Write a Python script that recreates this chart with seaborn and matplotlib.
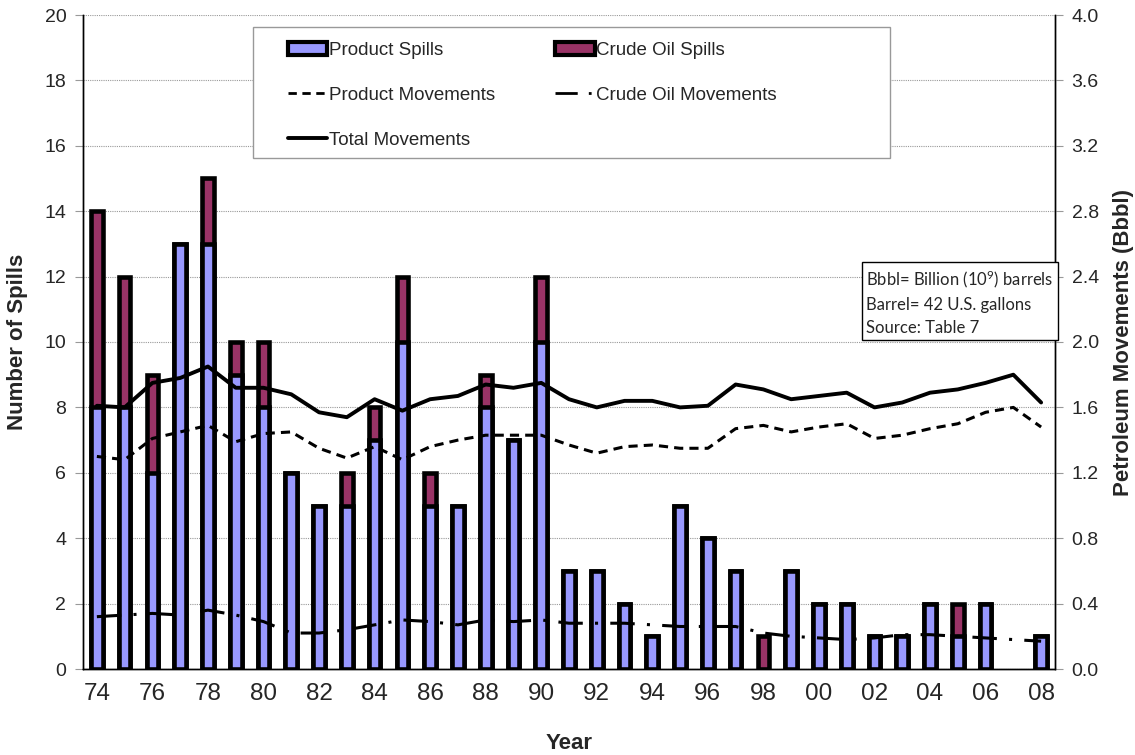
import numpy as np
import pandas as pd
import matplotlib
matplotlib.use("Agg")
import matplotlib.pyplot as plt
import seaborn as sns
from matplotlib.patches import Patch, Rectangle
from matplotlib.lines import Line2D

# data, 1974-2008
years = list(range(1974, 2009))
product_spills = [8, 8, 6, 13, 13, 9, 8, 6, 5, 5, 7, 10, 5, 5, 8, 7, 10, 3, 3, 2, 1, 5, 4, 3, 0, 3, 2, 2, 1, 1, 2, 1, 2, 0, 1]
crude_spills = [6, 4, 3, 0, 2, 1, 2, 0, 0, 1, 1, 2, 1, 0, 1, 0, 2, 0, 0, 0, 0, 0, 0, 0, 1, 0, 0, 0, 0, 0, 0, 1, 0, 0, 0]
total_mv = [1.61, 1.60, 1.75, 1.78, 1.85, 1.72, 1.72, 1.68, 1.57, 1.54, 1.65, 1.58, 1.65, 1.67, 1.74, 1.72, 1.75, 1.65,
            1.60, 1.64, 1.64, 1.60, 1.61, 1.74, 1.71, 1.65, 1.67, 1.69, 1.60, 1.63, 1.69, 1.71, 1.75, 1.80, 1.63]
product_mv = [1.30, 1.28, 1.41, 1.45, 1.49, 1.39, 1.44, 1.45, 1.35, 1.29, 1.36, 1.28, 1.36, 1.40, 1.43, 1.43, 1.43, 1.37,
              1.32, 1.36, 1.37, 1.35, 1.35, 1.47, 1.49, 1.45, 1.48, 1.50, 1.41, 1.43, 1.47, 1.50, 1.57, 1.60, 1.48]
crude_mv = [0.32, 0.33, 0.34, 0.33, 0.36, 0.33, 0.29, 0.22, 0.22, 0.24, 0.27, 0.30, 0.29, 0.27, 0.30, 0.29, 0.30, 0.28,
            0.28, 0.28, 0.27, 0.26, 0.26, 0.26, 0.22, 0.20, 0.19, 0.18, 0.19, 0.21, 0.21, 0.20, 0.19, 0.18, 0.17]
tick_labels = [str(y)[2:] for y in years[::2]]

blue = "#9999FF"
maroon = "#993366"

sns.set_style("white")
plt.rcParams['font.family'] = ['Liberation Sans', 'DejaVu Sans']
plt.rcParams['mathtext.fontset'] = 'custom'
plt.rcParams['mathtext.rm'] = 'Lato'

df = pd.DataFrame({'year': [str(y) for y in years],
                   'product': product_spills,
                   'total': np.array(product_spills) + np.array(crude_spills)})
pos = np.arange(len(years))

fig = plt.figure(figsize=(11.35, 7.55), dpi=100)
ax = fig.add_axes([83 / 1135, 1 - 669 / 755, (1055 - 83) / 1135, (669 - 15) / 755])

# stacked bars: total first (crude colour), product drawn over it
sns.barplot(data=df, x='year', y='total', color=maroon, saturation=1, width=0.42,
            edgecolor='black', linewidth=3.3, ax=ax)
sns.barplot(data=df, x='year', y='product', color=blue, saturation=1, width=0.42,
            edgecolor='black', linewidth=3.3, ax=ax)
for p in ax.patches:
    if p.get_height() == 0:
        p.set_visible(False)

ax.set_ylim(0, 20)
ax.set_yticks(range(0, 21, 2))
ax.set_xlim(-0.5, len(years) - 0.5)
ax.set_xticks(pos[::2])
ax.set_xticklabels(tick_labels)
ax.set_xticks(np.arange(-0.5, len(years), 1), minor=True)
ax.tick_params(axis='x', which='major', length=0, labelsize=17.5, pad=10)
ax.tick_params(axis='x', which='minor', length=8, direction='inout', color='#999999', width=1)
ax.tick_params(axis='y', length=6, color='#999999', labelsize=14, pad=6)
ax.yaxis.grid(True, color='#999999', linestyle=(0, (1, 1)), linewidth=0.8)
ax.set_axisbelow(True)
ax.set_xlabel('Year', fontsize=16, fontweight='bold', labelpad=20)
ax.set_ylabel('Number of Spills', fontsize=16, fontweight='bold', labelpad=12)

ax2 = ax.twinx()
sns.lineplot(x=pos, y=product_mv, ax=ax2, color='black', linewidth=2.2, linestyle=(0, (3, 2)))
sns.lineplot(x=pos, y=crude_mv, ax=ax2, color='black', linewidth=2.2, linestyle=(0, (8, 4, 1, 4)))
sns.lineplot(x=pos, y=total_mv, ax=ax2, color='black', linewidth=2.8)
ax2.set_ylim(0, 4)
ax2.set_yticks(np.arange(0, 4.01, 0.4))
ax2.set_yticklabels(['%.1f' % v for v in np.arange(0, 4.01, 0.4)])
ax2.set_xlim(-0.5, len(years) - 0.5)
ax2.tick_params(axis='y', length=6, color='#999999', labelsize=14, pad=6)
ax2.set_ylabel('Petroleum Movements (Bbbl)', fontsize=16, fontweight='bold', labelpad=10)

for a in (ax, ax2):
    a.spines['top'].set_visible(False)
    for s in ('left', 'right', 'bottom'):
        a.spines[s].set_color('black')
        a.spines[s].set_linewidth(1)

# legend with its own frame
fig.patches.append(Rectangle((253 / 1135, 1 - 158 / 755), (890 - 253) / 1135, (158 - 27) / 755,
                             transform=fig.transFigure, facecolor='white', edgecolor='#999999', lw=1, zorder=5))
handles = [Patch(facecolor=blue, edgecolor='black', linewidth=3),
           Line2D([], [], color='black', lw=2, linestyle=(0, (3, 2))),
           Line2D([], [], color='black', lw=2.8),
           Patch(facecolor=maroon, edgecolor='black', linewidth=3),
           Line2D([], [], color='black', lw=2, linestyle=(0, (8, 4, 1, 4)))]
labels = ['Product Spills', 'Product Movements', 'Total Movements', 'Crude Oil Spills', 'Crude Oil Movements']
leg = fig.legend(handles, labels, ncol=2, loc='upper left', bbox_to_anchor=(271 / 1135, 1 - 25 / 755),
                 frameon=False, fontsize=13.5, handlelength=2.1, handletextpad=0.1,
                 labelspacing=1.48, columnspacing=3.2)
leg.set_zorder(6)

fig.text(866 / 1135, 1 - 268 / 755, 'Bbbl= Billion (10$\\mathregular{^9}$) barrels\nBarrel= 42 U.S. gallons\nSource: Table 7',
         family=['Lato', 'DejaVu Sans'], fontsize=12, va='top', ha='left', linespacing=1.55,
         bbox=dict(boxstyle='square,pad=0.25', facecolor='white', edgecolor='black', lw=1), zorder=7)

fig.savefig('out.png', dpi=100)
